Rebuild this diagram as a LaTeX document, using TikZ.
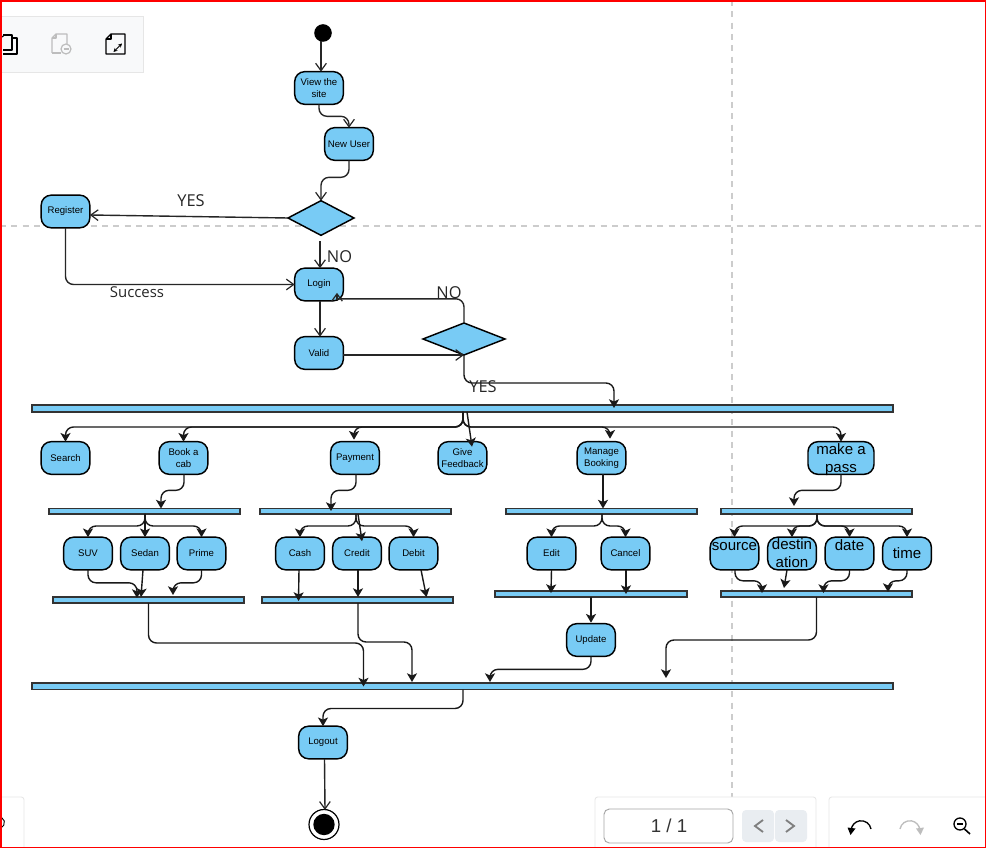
\documentclass[tikz,border=0pt]{standalone}
\usepackage{fontspec}
\setmainfont{Liberation Sans}
\setsansfont{Open Sans}
\usetikzlibrary{arrows.meta,shapes.geometric}
\definecolor{fillblue}{HTML}{78CBF5}
\definecolor{panelline}{HTML}{E6E6E6}
\definecolor{panelfill}{HTML}{F8F9FA}
\definecolor{dashgrey}{HTML}{CCCCCC}
\definecolor{btn}{HTML}{E9EDF1}
\definecolor{iconoff}{HTML}{BDBDBD}
\tikzset{
  pxx/.style={xshift=#1*0.75pt},
  pxy/.style={yshift=-#1*0.75pt},
  act/.style={draw=black,fill=fillblue,line width=1.1pt,rounded corners=7.5pt,inner sep=0pt,outer sep=0pt,
    minimum width=36.5pt,minimum height=24.5pt,align=center,font=\fontsize{7.2}{9}\selectfont},
  bigact/.style={act,font=\fontsize{11.3}{13.5}\selectfont},
  barnode/.style={draw=black!80,fill=fillblue,line width=1pt,inner sep=0pt,outer sep=0pt},
  decision/.style={diamond,draw=black,fill=fillblue,line width=1.1pt,inner sep=0pt,outer sep=0pt},
  opn/.style={draw=black!85,line width=1.05pt,rounded corners=6pt,-{Straight Barb[length=5.5pt,width=8pt,line width=0.9pt]}},
  shaft/.style={draw=black!85,line width=1.05pt,rounded corners=6pt},
  fil/.style={draw=black!90,line width=1.05pt,rounded corners=6pt,-{Stealth[length=6.5pt,width=7.5pt,inset=1.6pt]}},
  lab/.style={inner sep=0pt,text=black!85,font=\fontsize{12.3}{14}\selectfont\sffamily},
  panel/.style={draw=panelline,line width=0.6pt,fill=white,rounded corners=2pt},
  icon/.style={line width=0.9pt,draw=black,line join=round},
  iconoffst/.style={icon,draw=iconoff},
}
\newcommand{\barat}[5]{\node[barnode,minimum width={(#3-#2)*0.75pt},minimum height={(#5-#4)*0.75pt}] (#1) at ({(#2+#3)/2},{(#4+#5)/2}) {};}
\begin{document}
\begin{tikzpicture}[x=0.75pt,y=-0.75pt]
\useasboundingbox (0,0) rectangle (986,848);
\fill[white] (0,0) rectangle (986,848);
% grid guide lines
\draw[dashgrey,line width=0.9pt,dash pattern=on 4.5pt off 4pt] (0,226) -- (986,226);
\draw[dashgrey,line width=0.9pt,dash pattern=on 4.5pt off 4pt] (732,0) -- (732,848);
% viewer chrome, top left
\draw[draw=panelline,line width=0.6pt,fill=panelfill] (-3,16) rectangle (143,72);
\draw[icon] (3,35) -- (12,35) -- (12,50) -- (3,50);
\draw[icon] (12,38) -- (17,38) -- (17,54) -- (3,54);
\draw[icon] (2,37) -- (5,34.5);
\draw[iconoffst] (52,53) -- (52,38) -- (56,34) -- (67,34) -- (67,44);
\draw[iconoffst] (52,38) -- (56,38) -- (56,34);
\draw[iconoffst] (52,53) -- (61,53);
\draw[iconoffst] (66,49) circle (5);
\draw[iconoffst] (63.5,49) -- (68.5,49);
\draw[icon] (106,39) -- (111,34) -- (125,34) -- (125,54) -- (106,54) -- cycle;
\draw[icon] (106,39) -- (111,39) -- (111,34);
\draw[black,line width=0.7pt,{Stealth[length=3pt,width=3pt]}-{Stealth[length=3pt,width=3pt]}] (113.5,52) -- (122,43.5);
% viewer chrome, bottom
\draw[panel] (-8,797) rectangle (24,860);
\draw[black,line width=0.7pt] (1.75,817.7) arc[start angle=-60,end angle=60,radius=5.5];
\draw[panel] (595,797) rectangle (816,860);
\draw[panel] (829,797) rectangle (1000,860);
\draw[draw=black!35,line width=0.7pt,fill=white,rounded corners=4pt] (604,809) rectangle (733,843);
\node[inner sep=0pt,font=\fontsize{14}{16}\selectfont,text=black!80] (pagenum) at (669,825.5) {1 / 1};
\fill[btn,rounded corners=3pt] (742,810) rectangle (774,842);
\fill[btn,rounded corners=3pt] (775,810) rectangle (807,842);
\draw[black!50,line width=1.4pt] (763,820) -- (755,826) -- (763,832);
\draw[black!50,line width=1.4pt] (786,820) -- (794,826) -- (786,832);
\draw[black,line width=1pt] (871,829) arc[start angle=-10,end angle=-175,radius=10] coordinate (undoend);
\fill[black] (847.5,827.5) -- (855.5,828.5) -- (850.5,835) -- cycle;
\draw[iconoff,line width=1pt] (900,829) arc[start angle=-170,end angle=-5,radius=10];
\fill[iconoff] (924,827.5) -- (916,828.5) -- (920.5,835) -- cycle;
\draw[black,line width=1pt] (960,824) circle (6);
\draw[black,line width=1pt] (957,824) -- (963,824);
\draw[black,line width=1.2pt] (964.5,829) -- (970,834);
% nodes
\node[circle,fill=black,inner sep=0pt,minimum size=13.2pt] (start) at (323,33) {};
\node[act] (view) at (319,88) {View the\\site};
\node[act] (newuser) at (349,144) {New User};
\node[decision,minimum width=49.5pt,minimum height=26pt,aspect=1.9] (d1) at (321,218) {};
\node[act] (register) at (65.5,211.5) {Register};
\node[act] (login) at (319,284.5) {Login};
\node[act] (valid) at (319,353) {Valid};
\node[decision,minimum width=61.5pt,minimum height=24pt,aspect=2.55] (d2) at (464,339) {};
\barat{bar1}{32}{893}{405}{412}
\node[act] (search) at (65.5,458) {Search};
\node[act] (book) at (183.5,458) {Book a\\cab};
\node[act] (payment) at (355,458) {Payment};
\node[act] (feedback) at (462.5,458) {Give\\Feedback};
\node[act] (manage) at (601.5,458) {Manage\\Booking};
\node[bigact,minimum width=49.5pt] (pass) at (841,458) {make a\\\smash{pass}};
\barat{bar2}{49}{240}{508.5}{514}
\barat{bar3}{260}{451}{508.5}{514}
\barat{bar4}{506}{697}{508.5}{514}
\barat{bar5}{721}{912}{508.5}{514}
\node[act] (suv) at (88,553.5) {SUV};
\node[act] (sedan) at (145,553.5) {Sedan};
\node[act] (prime) at (201.5,553.5) {Prime};
\node[act] (cash) at (300,553.5) {Cash};
\node[act] (credit) at (357,553.5) {Credit};
\node[act] (debit) at (413.5,553.5) {Debit};
\node[act] (edit) at (551.5,553.5) {Edit};
\node[act] (cancel) at (625.5,553.5) {Cancel};
\node[bigact] (source) at (734.5,553.5) {\smash{\raisebox{2.6pt}{source}}};
\node[bigact] (dest) at (792,553.5) {destin\\ation};
\node[bigact] (date) at (849.5,553.5) {\smash{\raisebox{2.6pt}{date}}};
\node[bigact] (time) at (907,553.5) {time};
\barat{bar6}{53}{244}{597}{603}
\barat{bar7}{262}{453}{597}{603}
\barat{bar8}{495}{687}{591}{597}
\barat{bar9}{721}{912}{591}{597}
\node[act] (update) at (591,640) {Update};
\barat{bar10}{32}{893}{683}{689.5}
\node[act] (logout) at (323,742.5) {Logout};
\node[circle,draw=black,fill=white,line width=0.9pt,inner sep=0pt,minimum size=22.5pt] (endout) at (324,824.5) {};
\node[circle,fill=black,inner sep=0pt,minimum size=16pt] (endin) at (324,824.5) {};
% connectors, upper part
\draw[opn] ([pxx=-2,pxy=-1]start.south) -- ([pxx=2]view.north);
\draw[opn] (view.south) -- ++(0,12) -| (newuser.north);
\draw[opn] (newuser.south) -- ++(0,17) -| (d1.north);
\draw[opn] (d1.west) -- ([pxy=3.5]register.east);
\draw[opn] ([pxx=-1,pxy=6]d1.south) -- ([pxx=1]login.north);
\draw[opn] (register.south) |- (login.west);
\draw[opn] ([pxx=1]login.south) -- ([pxx=1]valid.north);
\draw[opn] ([pxy=2]valid.east) -- (d2.south);
\draw[shaft] (d2.north) |- ([pxx=18,pxy=-2]login.south);
\draw[opn,rounded corners=0pt] ([pxx=18,pxy=-1]login.south) -- ([pxx=18,pxy=-8]login.south);
\draw[fil] (d2.south) -- ++(0,28) -| ([pxx=151.5,pxy=3]bar1.north);
% from the first long bar
\draw[fil] ([pxx=0.5]bar1.south) -- ++(0,15) -| (search.north);
\draw[fil] ([pxx=0.5]bar1.south) -- ++(0,15) -| (book.north);
\draw[fil] ([pxx=0.5]bar1.south) -- ++(0,15) -| ([pxx=-1,pxy=-2]payment.north);
\draw[fil] ([pxx=4.5]bar1.south) -- ([pxx=9.5,pxy=5]feedback.north);
\draw[fil] ([pxx=0.5]bar1.south) -- ++(0,15) -| ([pxx=8.5,pxy=-3]manage.north);
\draw[fil] ([pxx=0.5]bar1.south) -- ++(0,15) -| (pass.north);
% into the second row of bars
\draw[fil] ([pxx=0.5]book.south) -- ++(0,16) -| ([pxx=16.5]bar2.north);
\draw[fil] ([pxx=1]payment.south) -- ++(0,16) -| ([pxx=-24.5,pxy=2.5]bar3.north);
\draw[fil] ([pxx=1.5]manage.south) -- ([pxx=1.5]bar4.north);
\draw[fil] (pass.south) -- ++(0,16) -| ([pxx=-22.5,pxy=-2.5]bar5.north);
% fan out
\draw[fil] ([pxx=0.5]bar2.south) -- ++(0,12) -| (suv.north);
\draw[fil] ([pxx=0.5]bar2.south) -- (sedan.north);
\draw[fil] ([pxx=0.5]bar2.south) -- ++(0,12) -| (prime.north);
\draw[fil] ([pxx=0.5]bar3.south) -- ++(0,12) -| (cash.north);
\draw[fil] ([pxx=2.5]bar3.south) -- ([pxx=5,pxy=4]credit.north);
\draw[fil] ([pxx=0.5]bar3.south) -- ++(0,12) -| (debit.north);
\draw[fil] ([pxx=0.5]bar4.south) -- ++(0,12) -| (edit.north);
\draw[fil] ([pxx=0.5]bar4.south) -- ++(0,12) -| (cancel.north);
\draw[fil] ([pxx=0.5]bar5.south) -- ++(0,12) -| (source.north);
\draw[fil] ([pxx=0.5]bar5.south) -- ++(0,12) -| (dest.north);
\draw[fil] ([pxx=0.5]bar5.south) -- ++(0,12) -| (date.north);
\draw[fil] ([pxx=0.5]bar5.south) -- ++(0,12) -| (time.north);
% fan in
\draw[fil] (suv.south) -- ++(0,13) -| ([pxx=-11.5,pxy=1]bar6.north);
\draw[fil] ([pxx=-2]sedan.south) -- ([pxx=-7.5]bar6.north);
\draw[fil] (prime.south) -- ++(0,13) -| ([pxx=24.5,pxy=-2]bar6.north);
\draw[fil] ([pxx=-1]cash.south) -- ([pxx=-59,pxy=4]bar7.north);
\draw[fil] ([pxx=1]credit.south) -- ([pxx=0.5]bar7.north);
\draw[fil] ([pxx=7.5]debit.south) -- ([pxx=69]bar7.north);
\draw[fil] (edit.south) -- ([pxx=-40,pxy=2]bar8.north);
\draw[fil] ([pxx=0.5]cancel.south) -- ([pxx=35,pxy=3]bar8.north);
\draw[fil] ([pxx=0.5]source.south) -- ++(0,11) -| ([pxx=-54.5,pxy=2]bar9.north);
\draw[fil] ([pxx=-5]dest.south) -- ([pxx=-32.5,pxy=-3]bar9.north);
\draw[fil] (date.south) -- ++(0,11) -| ([pxx=7,pxy=2]bar9.north);
\draw[fil] (time.south) -- ++(0,11) -| ([pxx=71.5,pxy=1]bar9.north);
\draw[fil] (bar8.south) -- ([pxy=-1]update.north);
% to the last bar
\draw[fil] (bar6.south) -- ++(0,40) -| ([pxx=-99,pxy=3.5]bar10.north);
\draw[fil] ([pxx=0.5]bar7.south) -- ++(0,39) -| ([pxx=-50.5,pxy=-1]bar10.north);
\draw[fil] (update.south) -- ++(0,13) -| ([pxx=27.5,pxy=-1]bar10.north);
\draw[fil] (bar9.south) -- ++(0,43) -| ([pxx=203.5,pxy=-5]bar10.north);
\draw[fil] ([pxx=0.5]bar10.south) -- ++(0,19) -| (logout.north);
\draw[opn] ([pxx=1.5]logout.south) -- ([pxx=1,pxy=1]endout.north);
% labels
\node[lab] (yes1) at (191,201) {YES};
\node[lab] (no1) at (339.5,257) {NO};
\node[lab,font=\fontsize{11.2}{13}\selectfont\sffamily] (succ) at (137,292) {Success};
\node[lab] (no2) at (449,293) {NO};
\node[lab] (yes2) at (483,387) {YES};
% screenshot frame
\fill[red] (0,0) rectangle (986,2);
\fill[red] (0,0) rectangle (2,848);
\fill[red] (984.5,0) rectangle (986,848);
\fill[red] (0,846.5) rectangle (986,848);
\end{tikzpicture}
\end{document}
